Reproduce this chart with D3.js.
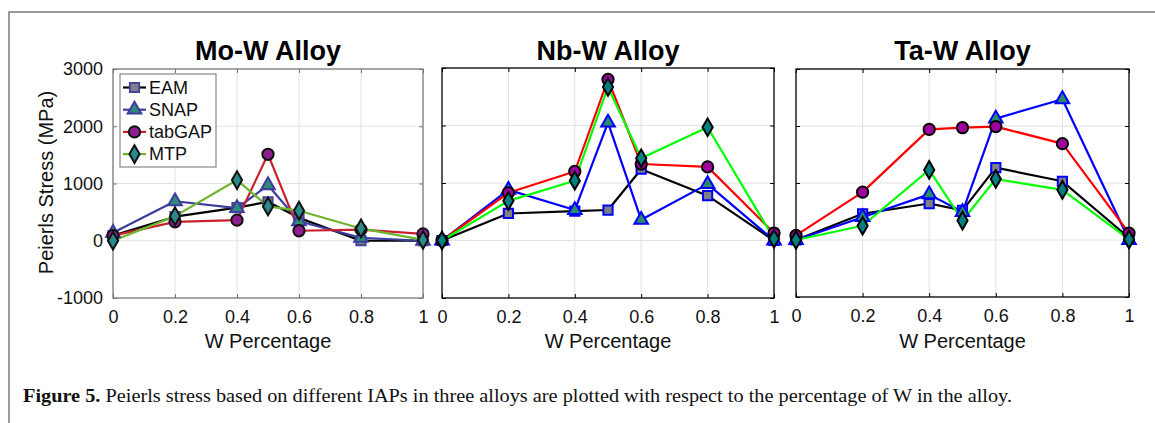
<!DOCTYPE html>
<html>
<head>
<meta charset="utf-8">
<script src="https://cdn.jsdelivr.net/npm/d3@7"></script>
<style>
  body { margin: 0; background: #fff; }
  svg { display: block; font-family: "Liberation Sans", Arial, sans-serif; }
</style>
</head>
<body>
<div id="chart"></div>
<script>
// W fraction on x, Peierls stress (MPa) on y
const wFrac = [0, 0.2, 0.4, 0.5, 0.6, 0.8, 1];
const models = ["EAM", "SNAP", "tabGAP", "MTP"];
const xTicks = [0, 0.2, 0.4, 0.6, 0.8, 1];
const yTicks = [-1000, 0, 1000, 2000, 3000];

const moEAM    = [90, 420, 580, 680, 400, 0, 0];
const moSNAP   = [140, 690, 570, 970, 340, 50, 0];
const moTabGAP = [90, 330, 360, 1510, 175, 195, 120];
const moMTP    = [0, 430, 1060, 600, 525, 215, 15];

const nbEAM    = [0, 470, 510, 530, 1240, 780, 0];
const nbSNAP   = [0, 880, 530, 2050, 360, 980, 0];
const nbTabGAP = [0, 830, 1200, 2800, 1330, 1280, 130];
const nbMTP    = [0, 690, 1040, 2670, 1430, 1970, 30];

const taEAM    = [0, 460, 640, 520, 1270, 1030, 40];
const taSNAP   = [0, 400, 800, 490, 2130, 2470, 0];
const taTabGAP = [80, 840, 1940, 1970, 1990, 1690, 120];
const taMTP    = [0, 250, 1230, 340, 1070, 880, 10];

const W = 1155, H = 423;
const svg = d3.select("#chart").append("svg")
    .attr("width", W)
    .attr("height", H);

// page frame (gray lines top and left)
svg.append("line").attr("x1", 8).attr("x2", W).attr("y1", 12).attr("y2", 12)
    .attr("stroke", "#999").attr("stroke-width", 2);
svg.append("line").attr("x1", 9).attr("x2", 9).attr("y1", 12).attr("y2", H)
    .attr("stroke", "#999").attr("stroke-width", 2);

// first panel was pasted with muted colours, the other two are pure matlab colours
const mutedStyle = {
    EAM:    { line: "#000000", edge: "#45459a", fill: "#80808c", sym: d3.symbolSquare, size: 85 },
    SNAP:   { line: "#3d3d9d", edge: "#3d3d9d", fill: "#2e8b7a", sym: d3.symbolTriangle, size: 80 },
    tabGAP: { line: "#c8202c", edge: "#111111", fill: "#8e1e8e", sym: d3.symbolCircle, size: 100 },
    MTP:    { line: "#6cb52d", edge: "#111111", fill: "#2a8a8a", sym: d3.symbolDiamond, size: 90 }
};
const pureStyle = {
    EAM:    { line: "#000000", edge: "#0000ff", fill: "#808080", sym: d3.symbolSquare, size: 85 },
    SNAP:   { line: "#0000ff", edge: "#0000ff", fill: "#2a8a6a", sym: d3.symbolTriangle, size: 80 },
    tabGAP: { line: "#ff0000", edge: "#000000", fill: "#a000a0", sym: d3.symbolCircle, size: 100 },
    MTP:    { line: "#00ff00", edge: "#000000", fill: "#008080", sym: d3.symbolDiamond, size: 90 }
};

const panels = [
    { title: "Mo-W Alloy", series: [moEAM, moSNAP, moTabGAP, moMTP], left: 113, right: 423, top: 69, bottom: 298,
      style: mutedStyle, axisColor: "#777", yLabels: true, legend: true },
    { title: "Nb-W Alloy", series: [nbEAM, nbSNAP, nbTabGAP, nbMTP], left: 442, right: 774, top: 68, bottom: 298,
      style: pureStyle, axisColor: "#000", yLabels: false, legend: false },
    { title: "Ta-W Alloy", series: [taEAM, taSNAP, taTabGAP, taMTP], left: 796, right: 1129, top: 69, bottom: 297,
      style: pureStyle, axisColor: "#000", yLabels: false, legend: false }
];

panels.forEach(p => {
    const x = d3.scaleLinear().domain([0, 1]).range([p.left, p.right]);
    const y = d3.scaleLinear().domain([-1000, 3000]).range([p.bottom, p.top]);
    const g = svg.append("g");

    // grid
    g.selectAll(".gx").data(xTicks.slice(1, -1)).enter().append("line")
        .attr("x1", d => x(d)).attr("x2", d => x(d))
        .attr("y1", p.top).attr("y2", p.bottom)
        .attr("stroke", "#e2e2e2").attr("stroke-width", 1);
    g.selectAll(".gy").data(yTicks.slice(1, -1)).enter().append("line")
        .attr("x1", p.left).attr("x2", p.right)
        .attr("y1", d => y(d)).attr("y2", d => y(d))
        .attr("stroke", "#e2e2e2").attr("stroke-width", 1);

    // axes, ticks pointing inward
    const fmt = d => String(d);
    const bottomAxis = g.append("g").attr("transform", `translate(0,${p.bottom})`)
        .call(d3.axisBottom(x).tickValues(xTicks).tickSize(-4).tickPadding(12).tickFormat(fmt));
    const topAxis = g.append("g").attr("transform", `translate(0,${p.top})`)
        .call(d3.axisTop(x).tickValues(xTicks).tickSize(-4).tickFormat(""));
    const leftAxis = g.append("g").attr("transform", `translate(${p.left},0)`)
        .call(d3.axisLeft(y).tickValues(yTicks).tickSize(-4).tickPadding(p.yLabels ? 10 : 0)
            .tickFormat(p.yLabels ? fmt : ""));
    const rightAxis = g.append("g").attr("transform", `translate(${p.right},0)`)
        .call(d3.axisRight(y).tickValues(yTicks).tickSize(-4).tickFormat(""));

    [bottomAxis, topAxis, leftAxis, rightAxis].forEach(a => {
        a.select(".domain").remove();
        a.selectAll("line").attr("stroke", p.axisColor);
        a.selectAll("text")
            .attr("fill", "#111")
            .style("font-size", "18px")
            .style("font-family", "Liberation Sans, Arial, sans-serif");
    });
    bottomAxis.selectAll("text").attr("dy", "0.71em");

    g.append("rect")
        .attr("x", p.left).attr("y", p.top)
        .attr("width", p.right - p.left).attr("height", p.bottom - p.top)
        .attr("fill", "none").attr("stroke", p.axisColor).attr("stroke-width", 1.3);

    // series lines then markers
    const line = d3.line().x((d, i) => x(wFrac[i])).y(d => y(d));
    p.series.forEach((vals, k) => {
        const st = p.style[models[k]];
        g.append("path")
            .datum(vals)
            .attr("d", line)
            .attr("fill", "none")
            .attr("stroke", st.line)
            .attr("stroke-width", 2.2)
            .attr("stroke-linejoin", "round");
    });
    p.series.forEach((vals, k) => {
        const st = p.style[models[k]];
        g.selectAll(".m" + k).data(vals).enter().append("path")
            .attr("transform", (d, i) => `translate(${x(wFrac[i])},${y(d)})`)
            .attr("d", d3.symbol().type(st.sym).size(st.size))
            .attr("fill", st.fill)
            .attr("stroke", st.edge)
            .attr("stroke-width", 2);
    });

    // title
    svg.append("text")
        .attr("x", (p.left + p.right) / 2)
        .attr("y", 60)
        .attr("text-anchor", "middle")
        .style("font-size", "27px")
        .style("font-weight", "bold")
        .attr("fill", "#000")
        .text(p.title);

    svg.append("text")
        .attr("x", (p.left + p.right) / 2)
        .attr("y", 348)
        .attr("text-anchor", "middle")
        .style("font-size", "20px")
        .attr("fill", "#111")
        .text("W Percentage");

    if (p.yLabels) {
        svg.append("text")
            .attr("transform", `translate(53,${(p.top + p.bottom) / 2 - 1}) rotate(-90)`)
            .attr("text-anchor", "middle")
            .style("font-size", "20px")
            .attr("fill", "#111")
            .text("Peierls Stress (MPa)");
    }

    if (p.legend) {
        const lg = svg.append("g");
        lg.append("rect")
            .attr("x", 120).attr("y", 74).attr("width", 96).attr("height", 93)
            .attr("fill", "#fff").attr("stroke", "#888").attr("stroke-width", 1.2);
        models.forEach((m, k) => {
            const st = p.style[m];
            const yy = 87.5 + k * 22.2;
            lg.append("line").attr("x1", 123).attr("x2", 146).attr("y1", yy).attr("y2", yy)
                .attr("stroke", st.line).attr("stroke-width", 2.2);
            lg.append("path")
                .attr("transform", `translate(134.5,${yy})`)
                .attr("d", d3.symbol().type(st.sym).size(st.size))
                .attr("fill", st.fill).attr("stroke", st.edge).attr("stroke-width", 2);
            lg.append("text")
                .attr("x", 149).attr("y", yy).attr("dy", "0.35em")
                .style("font-size", "18px")
                .attr("fill", "#111")
                .text(m);
        });
    }
});

// caption
const cap = svg.append("text")
    .attr("x", 23).attr("y", 402)
    .attr("textLength", 989)
    .attr("lengthAdjust", "spacingAndGlyphs")
    .style("font-family", "Liberation Serif, 'Times New Roman', serif")
    .style("font-size", "18px")
    .attr("fill", "#111");
cap.append("tspan").style("font-weight", "bold").text("Figure 5.");
cap.append("tspan").text(" Peierls stress based on different IAPs in three alloys are plotted with respect to the percentage of W in the alloy.");
</script>
</body>
</html>
